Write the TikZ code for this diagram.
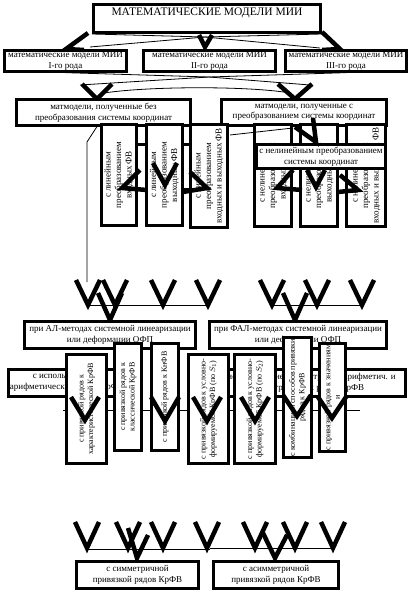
\documentclass[tikz,border=0pt]{standalone}
\usepackage{fontspec}
\setmainfont{Liberation Serif}

\tikzset{
  box/.style={draw, line width=3pt, fill=white, inner sep=1pt, align=center, font=\fontsize{9}{10.5}\selectfont},
  vbox/.style={box, rotate=90},
  smallv/.style={vbox, font=\fontsize{8}{9.5}\selectfont},
  conn/.style={line width=0.8pt},
  vstroke/.style={line width=4.5pt},
}

\begin{document}
\begin{tikzpicture}[x=1pt,y=1pt,yscale=-1]
        \useasboundingbox (0,0) rectangle (411,592);

        % Top box
        \node[box, minimum width=227pt, minimum height=28pt, font=\fontsize{11.5}{13}\selectfont] (models) at (207,18.5) {МАТЕМАТИЧЕСКИЕ МОДЕЛИ МИИ\\ \mbox{}};

        % Kinds
        \node[box, minimum width=122pt, minimum height=19pt] (kind1) at (65.5,61) {математические модели МИИ\\I-го рода};
        \node[box, minimum width=132pt, minimum height=19pt] (kind2) at (209.5,61) {математические модели МИИ\\II-го рода};
        \node[box, minimum width=121pt, minimum height=19pt] (kind3) at (346,61) {математические модели МИИ\\III-го рода};

        % thin lines, level 1
        \coordinate (c12) at (205,37);
        \draw[conn] (models.south west) -- (c12) -- (models.south east);
        \draw[conn] (c12) -- (90,47);
        \draw[conn] (c12) -- (320,48);

        % arrows, level 1
        \draw[vstroke] (88,33) -- (66,49) -- (84,50);
        \draw[vstroke] (199,35) -- (205,47) -- (212,35);
        \draw[vstroke] (322,32) -- (340,49) -- (322,50);

        % thin lines, level 2
        \coordinate (c23) at (209,77);
        \draw[conn] (80,85) -- (c23) -- (310,85);
        \draw[conn] (kind1.south) -- (c23);
        \draw[conn] (kind3.south) -- (c23);
        \draw[conn] (104,93) .. controls (150,86) and (250,86) .. (290,93);

        % arrows, level 2
        \draw[vstroke] (82,84) -- (97,99) -- (112,84);
        \draw[vstroke] (278,84) -- (295,99) -- (312,84);

        % Coordinate systems
        \node[box, minimum width=174pt, minimum height=26pt] (nocs) at (103.5,112.5) {матмодели, полученные без\\преобразования системы координат};
        \node[box, minimum width=165pt, minimum height=26pt] (withcs) at (304,112.5) {матмодели, полученные с\\преобразованием системы координат};

        %Shape: Rectangle behind
        \draw[line width=3pt, fill=white] (130,144) rectangle (200,189);

        % linear
        \node[vbox, minimum width=101pt, minimum height=35pt] (linin) at (119,175) {с линейным\\преобразованием\\входных ФВ};
        \node[vbox, minimum width=101pt, minimum height=36pt] (linout) at (164.5,175) {с линейным\\преобразованием\\выходных ФВ};
        \node[vbox, minimum width=103pt, minimum height=37pt] (linio) at (209,176) {с линейным\\преобразованием\\входных и выходных ФВ};

        % nonlinear
        \node[vbox, minimum width=102pt, minimum height=37pt] (nlin) at (273,175.5) {с нелинейным\\преобразованием\\входных ФВ};
        \node[vbox, minimum width=102pt, minimum height=37pt] (nlout) at (319,175.5) {с нелинейным\\преобразованием\\выходных ФВ};
        \node[vbox, minimum width=102pt, minimum height=39pt] (nlio) at (366,175.5) {с нелинейным\\преобразованием\\входных и выходных ФВ};
        \node[box, minimum width=129pt, minimum height=24pt] (nonlin) at (321,156.5) {с нелинейным преобразованием\\системы координат};

        % thin lines, level 3
        \draw[conn] (98,125) -- (87,142) -- (87,282);
        \draw[conn] (230,135) -- (293,128);

        % arrows, level 3
        \draw[vstroke] (313,118) -- (316,142) -- (295,127);
        \draw[vstroke] (140,170) -- (122,188) -- (147,190);
        \draw[vstroke] (153,163) -- (165,185) -- (177,163);
        \draw[vstroke] (190,172) -- (207,188) -- (183,192);
        \draw[vstroke] (293,170) -- (277,188) -- (302,190);
        \draw[vstroke] (307,170) -- (316,187) -- (325,170);
        \draw[vstroke] (340,175) -- (358,190) -- (338,192);

        % arrows, level 4
        \draw[conn] (88,305) -- (208,305);
        \draw[conn] (272,305) -- (362,305);
        \draw[vstroke] (76,280) -- (88,305) -- (100,280);
        \draw[vstroke] (103,280) -- (115,305) -- (127,280);
        \draw[vstroke] (98,293) -- (110,320) -- (122,293);
        \draw[vstroke] (151,280) -- (163,305) -- (175,280);
        \draw[vstroke] (196,280) -- (208,305) -- (220,280);
        \draw[vstroke] (260,280) -- (272,305) -- (284,280);
        \draw[vstroke] (283,293) -- (295,320) -- (307,293);
        \draw[vstroke] (305,280) -- (317,305) -- (329,280);
        \draw[vstroke] (350,280) -- (362,305) -- (374,280);

        % Methods
        \node[box, minimum width=171pt, minimum height=27pt] (alm) at (110,335) {при АЛ-методах системной линеаризации\\или деформации ОФП};
        \node[box, minimum width=177pt, minimum height=27pt] (falm) at (298,335) {при ФАЛ-методах системной линеаризации\\или деформации ОФП};

        % Series
        \node[box, minimum width=117pt, minimum height=27pt] (arith) at (67,383) {с использованием\\арифметических рядов КрФВ};
        \node[box, minimum width=194pt, minimum height=27pt] (arithgeo) at (308.5,383) {с использованием геометрич. и арифметич. и\\геометрических рядов КрФВ};
        \draw[conn] (63,410) -- (360,410);

        \node[smallv, minimum width=109pt, minimum height=40pt] (charkr) at (86.5,409) {с привязкой рядов к\\характеристической КрФВ};
        \node[smallv, minimum width=107pt, minimum height=27pt] (classkr) at (128,397) {с привязкой рядов к\\классической КрФВ};
        \node[smallv, minimum width=107pt, minimum height=27pt] (knfv) at (165,397) {с привязкой рядов к КнФВ};
        \node[smallv, minimum width=109pt, minimum height=40pt] (condone) at (208.5,409) {с привязкой рядов к условно-\\формируемой КрФВ (по $S_1$)};
        \node[smallv, minimum width=109pt, minimum height=41pt] (condtwo) at (255,409) {с привязкой рядов к условно-\\формируемой КрФВ (по $S_2$)};
        \node[smallv, minimum width=108pt, minimum height=28pt] (combo) at (297.5,397.5) {с комбинацией способов привязки\\рядов к КрФВ};
        \node[smallv, minimum width=108pt, minimum height=26pt] (valkr) at (332.5,397.5) {с привязкой рядов к значениям\\и};

        % arrows, level 6
        \draw[vstroke] (71,397) -- (85,420) -- (99,397);
        \draw[vstroke] (151,397) -- (165,421) -- (179,397);
        \draw[vstroke] (193,397) -- (207,421) -- (221,397);
        \draw[vstroke] (241,397) -- (255,421) -- (269,397);
        \draw[vstroke] (283,395) -- (297,416) -- (311,395);
        \draw[vstroke] (318,397) -- (332,418) -- (346,397);

        % arrows, level 7
        \draw[conn] (87,549) -- (210,549);
        \draw[conn] (210,548) -- (333,548);
        \draw[vstroke] (75,522) -- (87,548) -- (99,522);
        \draw[vstroke] (116,522) -- (128,548) -- (140,522);
        \draw[vstroke] (151,522) -- (163,548) -- (175,522);
        \draw[vstroke] (195,522) -- (207,548) -- (219,522);
        \draw[vstroke] (243,522) -- (255,548) -- (267,522);
        \draw[vstroke] (283,522) -- (295,548) -- (307,522);
        \draw[vstroke] (321,522) -- (333,548) -- (345,522);
        \draw[vstroke] (128,528) -- (137,558) -- (148,535);
        \draw[vstroke] (263,533) -- (275,558) -- (287,535);

        % Symmetry
        \node[box, minimum width=122pt, minimum height=27pt] (sym) at (137.5,575) {с симметричной\\привязкой рядов КрФВ};
        \node[box, minimum width=125pt, minimum height=27pt] (asym) at (276,575) {с асимметричной\\привязкой рядов КрФВ};

\end{tikzpicture}
\end{document}
